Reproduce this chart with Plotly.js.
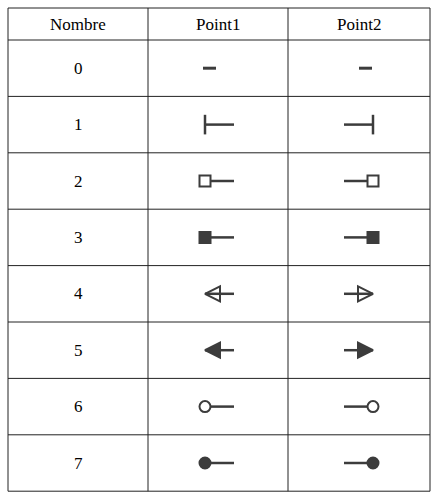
<!DOCTYPE html>
<html><head><meta charset="utf-8">
<script src="https://cdn.plot.ly/plotly-3.0.1.min.js"></script>
<style>body{margin:0;background:#fff}</style>
</head><body><div id="chart" style="width:439px;height:498px"></div>
<script>
const headers = ["Nombre", "Point1", "Point2"];
const numbers = [0, 1, 2, 3, 4, 5, 6, 7];
const point1Symbols = ["", "line-ns", "square-open", "square", "arrow-left-open", "arrow-left", "circle-open", "circle"];
const point2Symbols = ["", "line-ns", "square-open", "square", "arrow-right-open", "arrow-right", "circle-open", "circle"];

const colX = [8, 148, 288, 430];
const headTop = 8, headBot = 40, rowH = 56.4;
const rowY = i => headBot + rowH * (i + 0.5);
const ink = '#3c3c3c';

const shapes = [];
const lineStyle = { color: '#222', width: 1 };
const bottom = headBot + rowH * numbers.length;
shapes.push({ type: 'line', x0: colX[0], x1: colX[3], y0: headTop, y1: headTop, line: lineStyle });
for (let i = 0; i <= numbers.length; i++) {
  const y = headBot + rowH * i;
  shapes.push({ type: 'line', x0: colX[0], x1: colX[3], y0: y, y1: y, line: lineStyle });
}
colX.forEach(x => shapes.push({ type: 'line', x0: x, x1: x, y0: headTop, y1: bottom, line: lineStyle }));

const annotations = [];
headers.forEach((h, j) => annotations.push({
  x: (colX[j] + colX[j + 1]) / 2, y: (headTop + headBot) / 2, text: h, showarrow: false,
  font: { family: 'Liberation Serif', size: 17, color: '#000' }
}));
numbers.forEach((n, i) => annotations.push({
  x: (colX[0] + colX[1]) / 2, y: rowY(i), text: String(n), showarrow: false,
  font: { family: 'Liberation Serif', size: 17, color: '#000' }
}));

const traces = [];
numbers.forEach((n, i) => {
  const y = rowY(i);
  if (!point1Symbols[i]) {
    traces.push({ x: [203, 216], y: [y, y], mode: 'lines', line: { color: ink, width: 3 } });
    traces.push({ x: [359, 372], y: [y, y], mode: 'lines', line: { color: ink, width: 3 } });
    return;
  }
  const s1 = point1Symbols[i], s2 = point2Symbols[i];
  const isBar = s1 === 'line-ns', isArrow = s1.startsWith('arrow');
  const gap = isBar || isArrow ? 0 : 5;
  const size = isArrow ? 15 : isBar ? 14 : 11;
  traces.push({ x: [205 + gap, 234], y: [y, y], mode: 'lines', line: { color: ink, width: 2.5 } });
  traces.push({ x: [344, 373 - gap], y: [y, y], mode: 'lines', line: { color: ink, width: 2.5 } });
  traces.push({
    x: [205], y: [y], mode: 'markers',
    marker: { symbol: s1, size, color: ink, opacity: 1, line: { color: ink, width: isBar ? 2.5 : 2 } }
  });
  traces.push({
    x: [373], y: [y], mode: 'markers',
    marker: { symbol: s2, size, color: ink, opacity: 1, line: { color: ink, width: isBar ? 2.5 : 2 } }
  });
});

Plotly.newPlot('chart', traces, {
  width: 439, height: 498, margin: { l: 0, r: 0, t: 0, b: 0 },
  paper_bgcolor: '#fff', plot_bgcolor: '#fff', showlegend: false,
  xaxis: { range: [0, 439], visible: false, fixedrange: true },
  yaxis: { range: [498, 0], visible: false, fixedrange: true },
  shapes, annotations
}, { staticPlot: true });
</script></body></html>
